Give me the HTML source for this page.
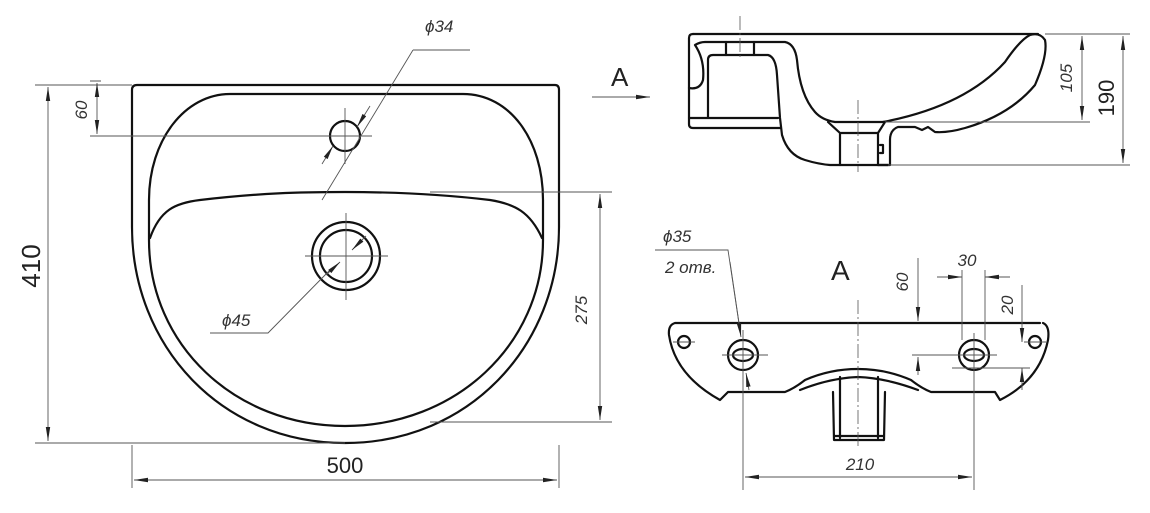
<!DOCTYPE html>
<html><head><meta charset="utf-8"><style>
html,body{margin:0;padding:0;background:#fff;}
svg{display:block;}
text{font-family:"Liberation Sans",sans-serif;fill:#222;}
.t{stroke:#111;stroke-width:2.2;fill:none;stroke-linejoin:round;stroke-linecap:round;}
.h{stroke:#555;stroke-width:0.9;fill:none;}
.c{stroke:#555;stroke-width:0.8;fill:none;stroke-dasharray:14 3 2 3;}
.i{font-style:italic;font-size:17px;fill:#333;}
</style></head><body>
<svg width="1150" height="513" viewBox="0 0 1150 513" xmlns="http://www.w3.org/2000/svg">
<defs>
<marker id="a" viewBox="0 0 14 5" refX="14" refY="2.5" markerWidth="14" markerHeight="5" orient="auto-start-reverse" markerUnits="userSpaceOnUse"><path d="M0,0.3 L14,2.5 L0,4.7 z" fill="#222"/></marker>
</defs>

<!-- TOP VIEW -->
<path class="t" d="M137,85 L555,85 Q559,85 559,90 L559,227 C559,345 470,443 345,443 C220,443 132,345 132,227 L132,90 Q132,85 137,85 Z"/>
<path class="t" d="M230,94 L463,94 C510,94 543,140 543,200 L543,240 C543,345 455,426 345,426 C235,426 149,345 149,240 L149,200 C149,140 185,94 230,94 Z"/>
<path class="t" d="M150,238 C160,210 175,203 200,200 C260,193 300,192 345,192 C390,192 440,194 490,200 C515,204 530,212 542,238"/>
<circle class="t" cx="345" cy="136" r="15"/>
<circle class="t" cx="346" cy="256" r="34"/>
<circle class="t" cx="346" cy="256" r="26"/>
<path class="h" d="M345,108 V164 M305,136 H372 M346,213 V300 M305,256 H388"/>
<path class="h" d="M35,85 H132 M35,443 H345 M90,81 H101 M90,136 H320 M132,445 V488 M559,445 V488 M430,192 H612 M430,422 H612"/>
<line class="h" x1="48" y1="87" x2="48" y2="441" marker-start="url(#a)" marker-end="url(#a)"/>
<line class="h" x1="97" y1="83" x2="97" y2="134" marker-start="url(#a)" marker-end="url(#a)"/>
<line class="h" x1="134" y1="480" x2="557" y2="480" marker-start="url(#a)" marker-end="url(#a)"/>
<line class="h" x1="600" y1="194" x2="600" y2="420" marker-start="url(#a)" marker-end="url(#a)"/>
<text x="40" y="266" font-size="26" transform="rotate(-90 40 266)" text-anchor="middle">410</text>
<text x="87" y="110" class="i" font-size="15" transform="rotate(-90 87 110)" text-anchor="middle">60</text>
<text x="345" y="473" font-size="22" text-anchor="middle">500</text>
<text x="587" y="310" class="i" transform="rotate(-90 587 310)" text-anchor="middle">275</text>
<path class="h" d="M413,50 H470 M413,50 L322,200"/>
<line class="h" x1="370" y1="106" x2="357" y2="127" marker-end="url(#a)"/>
<line class="h" x1="322" y1="164" x2="333" y2="146" marker-end="url(#a)"/>
<text x="425" y="32" class="i">ϕ34</text>
<path class="h" d="M210,333 H268 L330,270"/>
<line class="h" x1="326" y1="275" x2="340" y2="262" marker-end="url(#a)"/>
<line class="h" x1="366" y1="236" x2="352" y2="250" marker-end="url(#a)"/>
<text x="222" y="326" class="i">ϕ45</text>
<text x="611" y="86" font-size="26">A</text>
<line class="h" x1="592" y1="97" x2="650" y2="97" stroke-width="1.3" marker-end="url(#a)"/>

<!-- SIDE VIEW -->
<path class="t" d="M693,34 L1038,34"/>
<path class="t" d="M693,34 Q689,34 689,38 L689,124 Q689,128 693,128 L780,128"/>
<path class="t" d="M689,88 Q700,90 703,80 Q705,60 695,45 Q700,42 705,42 L785,42 Q795,44 797,60 Q800,95 815,112 Q822,120 835,122 L885,122"/>
<path class="t" d="M689,118 L778,118 M708,118 L708,60 Q708,55 713,55 L768,55 Q776,57 777,75 L780,118 L782,135 Q788,155 805,160 Q818,164 830,165 L888,165"/>
<path class="t" d="M726,42 V55 M754,42 V55"/>
<path class="t" d="M828,122 L840,133 L840,165 M840,133 L878,133 M878,133 L878,165 M878,133 L885,122"/>
<path class="t" d="M883,122 C930,113 975,95 1005,62 Q1020,40 1030,35 Q1040,32 1045,40 Q1048,55 1035,85 Q1010,115 965,128 Q948,133 935,132 L928,127 L922,130 L915,127 L898,127 Q890,130 890,140 L890,165 L878,165 M880,145 h3 v8 h-3"/>
<path class="c" d="M740,16 V58 M858,100 V172"/>
<path class="h" d="M1045,34 H1130 M885,122 H1090 M888,165 H1130"/>
<line class="h" x1="1082" y1="36" x2="1082" y2="120" marker-start="url(#a)" marker-end="url(#a)"/>
<line class="h" x1="1123" y1="36" x2="1123" y2="163" marker-start="url(#a)" marker-end="url(#a)"/>
<text x="1072" y="78" class="i" font-size="14" transform="rotate(-90 1072 78)" text-anchor="middle">105</text>
<text x="1114" y="98" font-size="22" transform="rotate(-90 1114 98)" text-anchor="middle">190</text>

<!-- VIEW A -->
<text x="831" y="280" font-size="28">A</text>
<path class="t" d="M675,323 L1040,323 M675,323 Q668,325 669,335 Q675,375 720,400 L728,392 L785,392 Q795,388 805,380 Q830,369 858,369 Q886,369 911,380 Q921,388 931,392 L995,392 L1000,400 Q1040,380 1048,340 Q1050,326 1043,323"/>
<path class="t" d="M800,390 Q830,378 858,377 Q886,378 918,390"/>
<path class="t" d="M840,377 L840,438 M878,377 L878,438 M833,392 L834,440 L884,440 L885,392 M834,436 H884"/>
<circle class="t" cx="743" cy="355" r="15"/><ellipse class="t" cx="743" cy="355" rx="10" ry="6"/>
<circle class="t" cx="974" cy="355" r="15"/><ellipse class="t" cx="974" cy="355" rx="10" ry="6"/>
<circle class="t" cx="684" cy="342" r="6"/>
<circle class="t" cx="1035" cy="342" r="6"/>
<path class="c" d="M858,300 V448"/>
<path class="h" d="M722,355 H768 M743,330 V490 M912,355 H997 M974,333 V490 M673,342 H695 M1024,342 H1046 M952,368 H1030"/>
<line class="h" x1="745" y1="477" x2="972" y2="477" marker-start="url(#a)" marker-end="url(#a)"/>
<text x="860" y="470" class="i" text-anchor="middle">210</text>
<path class="h" d="M655,250 H728 L740,330"/>
<line class="h" x1="730" y1="262" x2="741" y2="337" marker-end="url(#a)"/>
<line class="h" x1="749" y1="390" x2="746" y2="373" marker-end="url(#a)"/>
<text x="663" y="242" class="i">ϕ35</text>
<text x="665" y="273" class="i">2 отв.</text>
<line class="h" x1="918" y1="258" x2="918" y2="321" marker-end="url(#a)"/>
<line class="h" x1="918" y1="375" x2="918" y2="357" marker-end="url(#a)"/>
<text x="908" y="282" class="i" font-size="15" transform="rotate(-90 908 282)" text-anchor="middle">60</text>
<path class="h" d="M962,270 V340 M985,270 V340"/>
<line class="h" x1="937" y1="277" x2="962" y2="277" marker-end="url(#a)"/>
<line class="h" x1="1010" y1="277" x2="985" y2="277" marker-end="url(#a)"/>
<text x="967" y="266" class="i" text-anchor="middle">30</text>
<line class="h" x1="1022" y1="285" x2="1022" y2="342" marker-end="url(#a)"/>
<line class="h" x1="1022" y1="390" x2="1022" y2="368" marker-end="url(#a)"/>
<text x="1013" y="305" class="i" font-size="15" transform="rotate(-90 1013 305)" text-anchor="middle">20</text>
</svg>
</body></html>
